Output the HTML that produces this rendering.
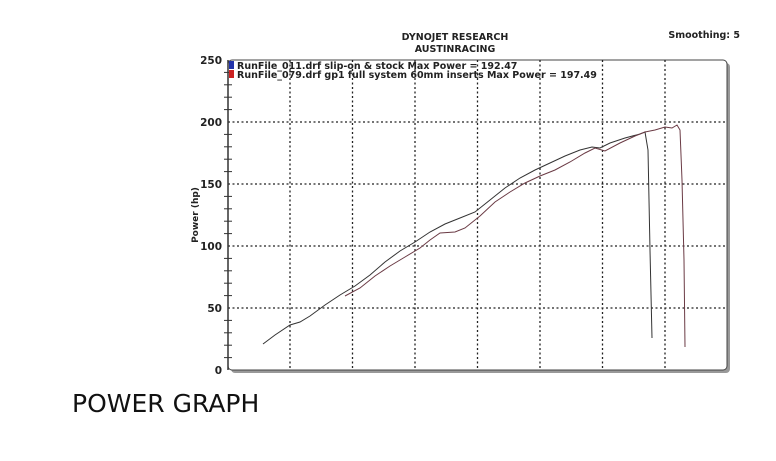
<!DOCTYPE html>
<html><head><style>body{margin:0;background:#fff;width:776px;height:456px;overflow:hidden}</style></head>
<body>
<svg width="776" height="456" xmlns="http://www.w3.org/2000/svg" font-family="Verdana, 'DejaVu Sans', sans-serif">
<text x="455" y="40" font-size="9.5" font-weight="bold" text-anchor="middle" fill="#222">DYNOJET RESEARCH</text>
<text x="455" y="52" font-size="9.5" font-weight="bold" text-anchor="middle" fill="#222">AUSTINRACING</text>
<text x="740" y="38" font-size="9.5" font-weight="bold" text-anchor="end" fill="#222">Smoothing: 5</text>
<rect x="231" y="63" width="499" height="310" rx="4" fill="#999"/>
<rect x="228" y="60" width="499" height="310" rx="4" fill="#fff" stroke="#444" stroke-width="1"/>
<g stroke="#222" stroke-width="1.3" stroke-dasharray="2,2.5">
<line x1="228" y1="122" x2="727" y2="122"/><line x1="228" y1="184" x2="727" y2="184"/>
<line x1="228" y1="246" x2="727" y2="246"/><line x1="228" y1="308" x2="727" y2="308"/>
<line x1="290" y1="60" x2="290" y2="370"/><line x1="352.5" y1="60" x2="352.5" y2="370"/>
<line x1="415" y1="60" x2="415" y2="370"/><line x1="477.5" y1="60" x2="477.5" y2="370"/>
<line x1="540" y1="60" x2="540" y2="370"/><line x1="602.5" y1="60" x2="602.5" y2="370"/>
<line x1="665" y1="60" x2="665" y2="370"/>
</g>
<line x1="228" y1="60" x2="228" y2="370" stroke="#333" stroke-width="1.5"/>
<g stroke="#333" stroke-width="1">
<line x1="224" y1="72.4" x2="232" y2="72.4"/><line x1="224" y1="84.8" x2="232" y2="84.8"/><line x1="224" y1="97.2" x2="232" y2="97.2"/><line x1="224" y1="109.6" x2="232" y2="109.6"/>
<line x1="224" y1="134.4" x2="232" y2="134.4"/><line x1="224" y1="146.8" x2="232" y2="146.8"/><line x1="224" y1="159.2" x2="232" y2="159.2"/><line x1="224" y1="171.6" x2="232" y2="171.6"/>
<line x1="224" y1="196.4" x2="232" y2="196.4"/><line x1="224" y1="208.8" x2="232" y2="208.8"/><line x1="224" y1="221.2" x2="232" y2="221.2"/><line x1="224" y1="233.6" x2="232" y2="233.6"/>
<line x1="224" y1="258.4" x2="232" y2="258.4"/><line x1="224" y1="270.8" x2="232" y2="270.8"/><line x1="224" y1="283.2" x2="232" y2="283.2"/><line x1="224" y1="295.6" x2="232" y2="295.6"/>
<line x1="224" y1="320.4" x2="232" y2="320.4"/><line x1="224" y1="332.8" x2="232" y2="332.8"/><line x1="224" y1="345.2" x2="232" y2="345.2"/><line x1="224" y1="357.6" x2="232" y2="357.6"/>
</g>
<g font-size="10.5" font-weight="bold" text-anchor="end" fill="#222">
<text x="222" y="64">250</text><text x="222" y="126">200</text><text x="222" y="188">150</text>
<text x="222" y="250">100</text><text x="222" y="312">50</text><text x="222" y="374">0</text>
</g>
<text transform="translate(198,215) rotate(-90)" font-size="9" font-weight="bold" text-anchor="middle" fill="#222">Power (hp)</text>
<rect x="229" y="61" width="5" height="8" fill="#2233aa"/>
<rect x="229" y="70" width="5" height="8" fill="#cc2222"/>
<text x="237" y="69" font-size="9.5" font-weight="bold" fill="#222">RunFile_011.drf slip-on &amp; stock Max Power = 192.47</text>
<text x="237" y="78" font-size="9.5" font-weight="bold" fill="#222">RunFile_079.drf gp1 full system 60mm inserts Max Power = 197.49</text>
<polyline fill="none" stroke="#333" stroke-width="1" points="263,344 275,335 290,325 300,322 310,316 325,305 340,295 355,286 370,275 385,262 400,251 415,242 430,232 445,224 460,218 475,212 490,200 505,188 520,178 535,170 550,163 565,156 580,150 592,147 600,148 610,143 625,138 640,134 645,132 648,150 650,250 652,338"/>
<polyline fill="none" stroke="#6a3a44" stroke-width="1" points="345,296 360,288 375,276 390,266 405,257 420,248 430,240 440,233 455,232 465,228 480,216 495,202 510,192 525,183 540,176 555,170 570,162 585,153 595,148 605,151 620,143 635,136 645,132 655,130 665,127 672,128 677,125 680,130 682,180 684,260 685,347"/>
<text x="72" y="412" font-family="'DejaVu Sans', sans-serif" font-size="25" fill="#111">POWER GRAPH</text>
</svg>
</body></html>
